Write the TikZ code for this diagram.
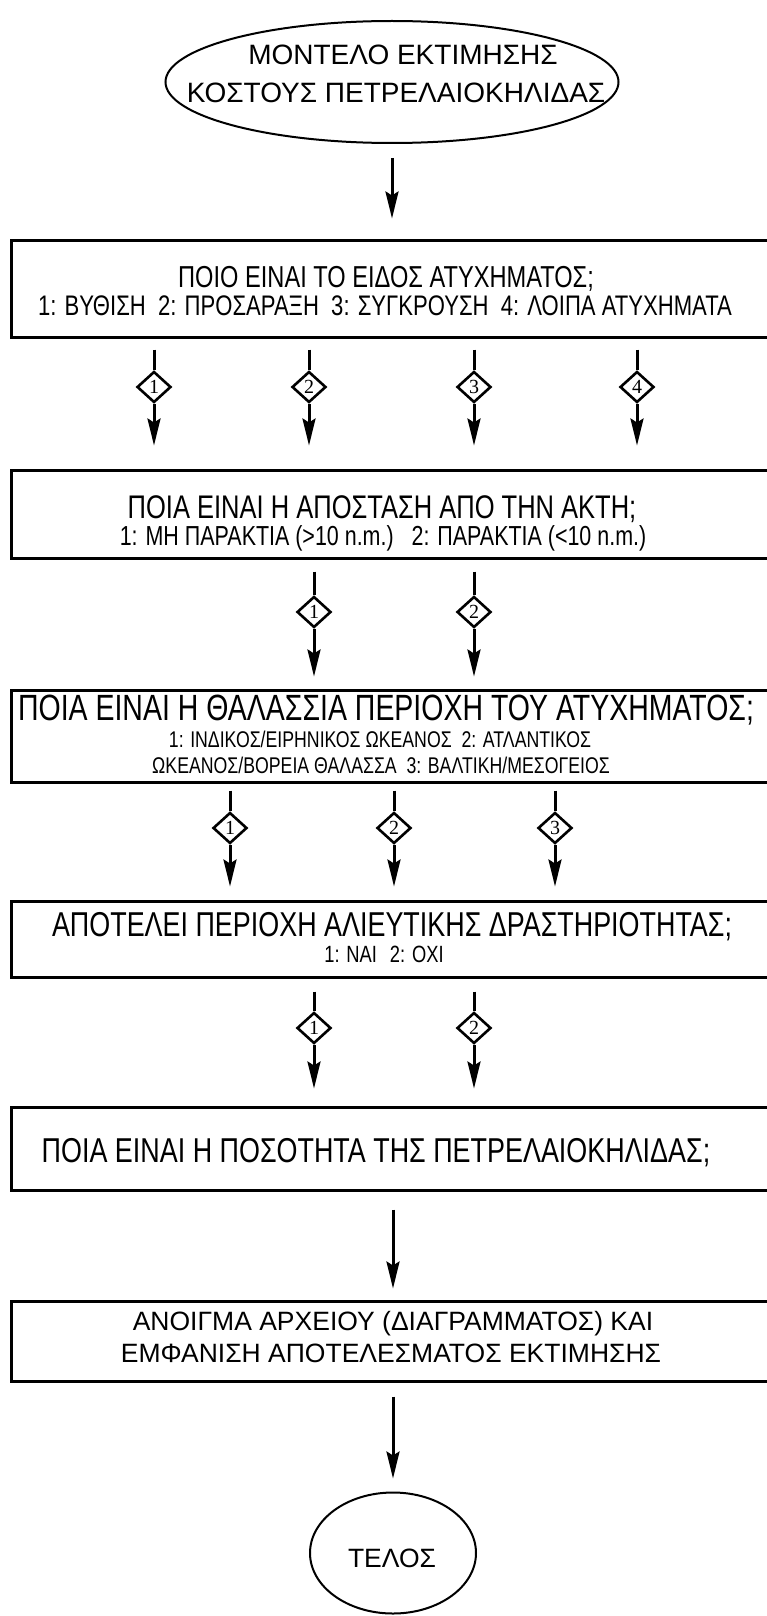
\documentclass[tikz,border=0pt]{standalone}
\usepackage{fontspec}
\setmainfont{Liberation Sans}
\newfontfamily\narrowfont[FakeStretch=0.78]{Liberation Sans}
\newfontfamily\numfont{Liberation Serif}
\usetikzlibrary{shapes.geometric,arrows.meta}
\newcommand{\nf}[1]{\narrowfont\fontsize{#1}{#1}\selectfont}
\newcommand{\af}[1]{\fontsize{#1}{#1}\selectfont}
\begin{document}
\begin{tikzpicture}[x=1pt,y=-1pt,
  boxnode/.style={draw, line width=3pt, minimum width=760pt, inner sep=0pt},
  ovalnode/.style={draw, ellipse, line width=2pt, inner sep=0pt},
  txt/.style={anchor=base, inner sep=0pt},
  dia/.style={draw, diamond, line width=2.6pt, minimum width=34pt, minimum height=31pt, inner sep=0pt, font=\numfont\fontsize{20}{20}\selectfont},
  arr/.style={line width=3pt, -{Stealth[length=27pt,width=13pt,inset=4pt]}},
  ln/.style={line width=3pt}
]
\useasboundingbox (0,0) rectangle (767,1616);

% shapes
\node[ovalnode, minimum width=453pt, minimum height=122pt] (e1) at (392,82) {};
\node[boxnode, minimum height=97pt] (b1) at (391,288.5) {};
\node[boxnode, minimum height=88pt] (b2) at (391,514) {};
\node[boxnode, minimum height=92pt] (b3) at (391,736) {};
\node[boxnode, minimum height=76pt] (b4) at (391,939) {};
\node[boxnode, minimum height=83pt] (b5) at (391,1148.5) {};
\node[boxnode, minimum height=80pt] (b6) at (391,1341) {};
\node[ovalnode, minimum width=166pt, minimum height=121pt] (e2) at (393,1553) {};

% texts
\node[txt] (e1t1) at (403,65) {\af{28}ΜΟΝΤΕΛΟ ΕΚΤΙΜΗΣΗΣ};
\node[txt] (e1t2) at (396,103) {\af{28}ΚΟΣΤΟΥΣ ΠΕΤΡΕΛΑΙΟΚΗΛΙΔΑΣ};

\node[txt] (b1t1) at (386,287) {\nf{30.3}ΠΟΙΟ ΕΙΝΑΙ ΤΟ ΕΙΔΟΣ ΑΤΥΧΗΜΑΤΟΣ;};
\node[txt] (b1t2) at (385,315) {\nf{28.3}1: ΒΥΘΙΣΗ\ \ 2: ΠΡΟΣΑΡΑΞΗ\ \ 3: ΣΥΓΚΡΟΥΣΗ\ \ 4: ΛΟΙΠΑ ΑΤΥΧΗΜΑΤΑ};

\node[txt] (b2t1) at (382,518) {\nf{32.7}ΠΟΙΑ ΕΙΝΑΙ Η ΑΠΟΣΤΑΣΗ ΑΠΟ ΤΗΝ ΑΚΤΗ;};
\node[txt] (b2t2) at (383,545) {\nf{27.5}1: ΜΗ ΠΑΡΑΚΤΙΑ (>10 n.m.)\ \ \ 2: ΠΑΡΑΚΤΙΑ (<10 n.m.)};

\node[txt] (b3t1) at (386,720) {\nf{36.5}ΠΟΙΑ ΕΙΝΑΙ Η ΘΑΛΑΣΣΙΑ ΠΕΡΙΟΧΗ ΤΟΥ ΑΤΥΧΗΜΑΤΟΣ;};
\node[txt] (b3t2) at (380,747) {\nf{22.7}1: ΙΝΔΙΚΟΣ/ΕΙΡΗΝΙΚΟΣ ΩΚΕΑΝΟΣ\ \ 2: ΑΤΛΑΝΤΙΚΟΣ};
\node[txt] (b3t3) at (381,773) {\nf{22.7}ΩΚΕΑΝΟΣ/ΒΟΡΕΙΑ ΘΑΛΑΣΣΑ\ \ 3: ΒΑΛΤΙΚΗ/ΜΕΣΟΓΕΙΟΣ};

\node[txt] (b4t1) at (392,936) {\nf{34.5}ΑΠΟΤΕΛΕΙ ΠΕΡΙΟΧΗ ΑΛΙΕΥΤΙΚΗΣ ΔΡΑΣΤΗΡΙΟΤΗΤΑΣ;};
\node[txt] (b4t2) at (384,962) {\nf{23.5}1: ΝΑΙ\hspace{13pt}2: ΟΧΙ};

\node[txt] (b5t1) at (376,1162) {\nf{34.5}ΠΟΙΑ ΕΙΝΑΙ Η ΠΟΣΟΤΗΤΑ ΤΗΣ ΠΕΤΡΕΛΑΙΟΚΗΛΙΔΑΣ;};

\node[txt] (b6t1) at (393,1330) {\af{26.5}ΑΝΟΙΓΜΑ ΑΡΧΕΙΟΥ (ΔΙΑΓΡΑΜΜΑΤΟΣ) ΚΑΙ};
\node[txt] (b6t2) at (391,1362) {\af{26.5}ΕΜΦΑΝΙΣΗ ΑΠΟΤΕΛΕΣΜΑΤΟΣ ΕΚΤΙΜΗΣΗΣ};

\node[txt] (e2t) at (392,1567) {\af{26.5}ΤΕΛΟΣ};

% diamonds
\node[dia] (d11) at (154,387) {1};
\node[dia] (d12) at (309,387) {2};
\node[dia] (d13) at (474,387) {3};
\node[dia] (d14) at (637,387) {4};
\node[dia] (d21) at (314,612) {1};
\node[dia] (d22) at (474,612) {2};
\node[dia] (d31) at (230,828) {1};
\node[dia] (d32) at (394,828) {2};
\node[dia] (d33) at (555,828) {3};
\node[dia] (d41) at (314,1028) {1};
\node[dia] (d42) at (474,1028) {2};

% connectors
\draw[arr, shorten <=14pt, shorten >=20pt] (e1.south) -- (e1.south |- b1.north);

\foreach \d in {d11,d12,d13,d14}{
  \draw[ln, shorten <=11pt] (\d |- b1.south) -- (\d.north);
  \draw[arr, shorten >=23pt] (\d.south) -- (\d |- b2.north);
}
\foreach \d in {d21,d22}{
  \draw[ln, shorten <=12pt] (\d |- b2.south) -- (\d.north);
  \draw[arr, shorten >=12pt] (\d.south) -- (\d |- b3.north);
}
\foreach \d in {d31,d32,d33}{
  \draw[ln, shorten <=7pt] (\d |- b3.south) -- (\d.north);
  \draw[arr, shorten >=13pt] (\d.south) -- (\d |- b4.north);
}
\foreach \d in {d41,d42}{
  \draw[ln, shorten <=13pt] (\d |- b4.south) -- (\d.north);
  \draw[arr, shorten >=17pt] (\d.south) -- (\d |- b5.north);
}
\draw[arr, shorten <=18pt, shorten >=11pt] (b5.south -| e2.north) -- (b6.north -| e2.north);
\draw[arr, shorten <=14pt, shorten >=13pt] (b6.south -| e2.north) -- (e2.north);
\end{tikzpicture}
\end{document}
